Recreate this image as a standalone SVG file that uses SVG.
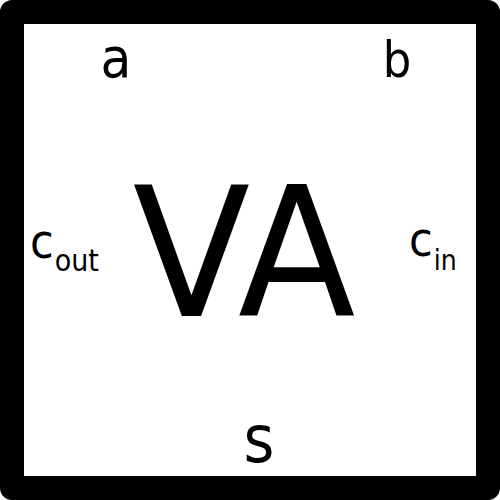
<svg xmlns="http://www.w3.org/2000/svg" width="500" height="500" viewBox="0 0 500 500">
<style>
.t{font-family:"DejaVu Sans Condensed","DejaVu Sans",sans-serif;font-stretch:condensed;fill:#000}
</style>
<rect x="0" y="0" width="500" height="500" fill="#fff"/>
<g id="box">
<rect x="12" y="12" width="476" height="476" fill="#fff" stroke="#000" stroke-width="24" stroke-linejoin="round"/>
</g>
<g id="label-VA"><text class="t" transform="translate(244,316) scale(1.06,1)" x="0" y="0" font-size="180" text-anchor="middle">VA</text></g>
<g id="label-a"><text class="t" x="116" y="77" font-size="56" text-anchor="middle">a</text></g>
<g id="label-b"><text class="t" x="397" y="77" font-size="50" text-anchor="middle">b</text></g>
<g id="label-cout"><text class="t" x="30" y="258" font-size="48">c<tspan font-size="30" dx="1" y="271">out</tspan></text></g>
<g id="label-cin"><text class="t" x="409" y="256" font-size="48">c<tspan font-size="28" dx="1" y="270">in</tspan></text></g>
<g id="label-s"><text class="t" x="259" y="462" font-size="66" text-anchor="middle">s</text></g>
<g id="connectors"></g>
</svg>
